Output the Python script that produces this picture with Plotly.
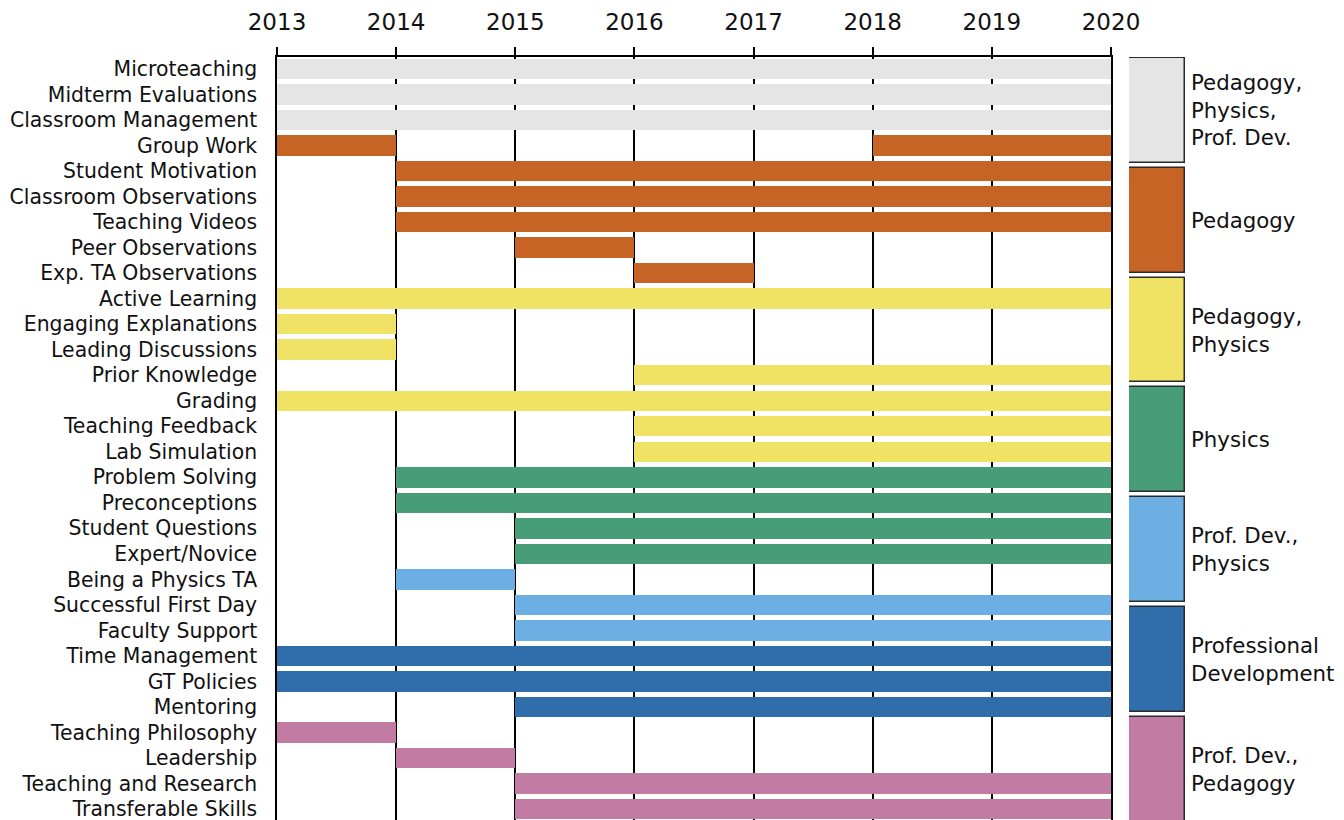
import plotly.graph_objects as go

# ---------------- data ----------------
topics = [
    "Microteaching", "Midterm Evaluations", "Classroom Management", "Group Work",
    "Student Motivation", "Classroom Observations", "Teaching Videos", "Peer Observations",
    "Exp. TA Observations", "Active Learning", "Engaging Explanations", "Leading Discussions",
    "Prior Knowledge", "Grading", "Teaching Feedback", "Lab Simulation", "Problem Solving",
    "Preconceptions", "Student Questions", "Expert/Novice", "Being a Physics TA",
    "Successful First Day", "Faculty Support", "Time Management", "GT Policies", "Mentoring",
    "Teaching Philosophy", "Leadership", "Teaching and Research", "Transferable Skills",
]

# segments (Group Work appears twice)
seg_topic = [
    "Microteaching", "Midterm Evaluations", "Classroom Management", "Group Work", "Group Work",
    "Student Motivation", "Classroom Observations", "Teaching Videos", "Peer Observations",
    "Exp. TA Observations", "Active Learning", "Engaging Explanations", "Leading Discussions",
    "Prior Knowledge", "Grading", "Teaching Feedback", "Lab Simulation", "Problem Solving",
    "Preconceptions", "Student Questions", "Expert/Novice", "Being a Physics TA",
    "Successful First Day", "Faculty Support", "Time Management", "GT Policies", "Mentoring",
    "Teaching Philosophy", "Leadership", "Teaching and Research", "Transferable Skills",
]
seg_start = [2013, 2013, 2013, 2013, 2018,
             2014, 2014, 2014, 2015,
             2016, 2013, 2013, 2013,
             2016, 2013, 2016, 2016, 2014,
             2014, 2015, 2015, 2014,
             2015, 2015, 2013, 2013, 2015,
             2013, 2014, 2015, 2015]
seg_end = [2020, 2020, 2020, 2014, 2020,
           2020, 2020, 2020, 2016,
           2017, 2020, 2014, 2014,
           2020, 2020, 2020, 2020, 2020,
           2020, 2020, 2020, 2015,
           2020, 2020, 2020, 2020, 2020,
           2014, 2015, 2020, 2020]
seg_group = [0, 0, 0, 1, 1,
             1, 1, 1, 1,
             1, 2, 2, 2,
             2, 2, 2, 2, 3,
             3, 3, 3, 4,
             4, 4, 5, 5, 5,
             6, 6, 6, 6]

group_labels = [
    "Pedagogy,<br>Physics,<br>Prof. Dev.",
    "Pedagogy",
    "Pedagogy,<br>Physics",
    "Physics",
    "Prof. Dev.,<br>Physics",
    "Professional<br>Development",
    "Prof. Dev.,<br>Pedagogy",
]
group_colors = ["#e5e5e5", "#c66426", "#efe264", "#479d77", "#6cb0e3", "#2f6eab", "#c27ba3"]

years = [2013, 2014, 2015, 2016, 2017, 2018, 2019, 2020]

FONT = "DejaVu Sans"

# ---------------- figure ----------------
fig = go.Figure()

fig.add_trace(go.Bar(
    y=seg_topic,
    x=[e - s for s, e in zip(seg_start, seg_end)],
    base=seg_start,
    orientation="h",
    width=0.8,
    marker=dict(color=[group_colors[g] for g in seg_group], line=dict(width=0)),
    showlegend=False,
    hoverinfo="skip",
    xaxis="x", yaxis="y",
))

# legend boxes as a small bar chart on secondary axes
fig.add_trace(go.Bar(
    y=list(range(len(group_labels))),
    x=[1] * len(group_labels),
    orientation="h",
    width=0.954,
    marker=dict(color=group_colors, line=dict(color="#2a2a2a", width=1.5)),
    showlegend=False,
    hoverinfo="skip",
    xaxis="x2", yaxis="y2",
))

for i, lab in enumerate(group_labels):
    fig.add_annotation(
        x=1, y=i, xref="x2", yref="y2", text=lab, showarrow=False,
        xanchor="left", yanchor="middle", align="left", xshift=4,
        font=dict(family=FONT, size=21.3, color="#111111"),
    )

# page body has an 8px margin; compensate so the picture lines up
OFF = 8
W, H = 1344 - OFF, 820 - OFF
L, T = 277 - OFF, 57 - OFF
plot_w = W - L

fig.update_layout(
    width=W, height=H,
    margin=dict(l=L, r=0, t=T, b=0, autoexpand=False),
    paper_bgcolor="white", plot_bgcolor="white",
    barmode="overlay",
    bargap=0,
    xaxis=dict(
        domain=[0, (1111 - 277) / plot_w],
        range=[2013, 2020],
        side="top",
        tickvals=years,
        ticktext=[str(y) for y in years],
        ticks="outside", ticklen=8, tickwidth=1.5, tickcolor="black",
        ticklabelstandoff=8,
        showline=True, linecolor="black", linewidth=1.5,
        showgrid=True, gridcolor="black", gridwidth=1.5,
        zeroline=False, automargin=False,
        tickfont=dict(family=FONT, size=23, color="#111111"),
        fixedrange=True,
    ),
    yaxis=dict(
        categoryorder="array", categoryarray=topics,
        range=[29.43, -0.47],
        ticks="outside", ticklen=14, tickcolor="rgba(0,0,0,0)",
        showline=True, linecolor="black", linewidth=1.5, mirror=True,
        showgrid=False, zeroline=False, automargin=False,
        tickfont=dict(family=FONT, size=20.4, color="#111111"),
        fixedrange=True,
    ),
    xaxis2=dict(
        domain=[(1129 - 277) / plot_w, (1185 - 277) / plot_w],
        range=[0, 1], anchor="y2", automargin=False,
        visible=False, fixedrange=True,
    ),
    yaxis2=dict(
        range=[6.461, -0.486], anchor="x2", automargin=False,
        visible=False, fixedrange=True,
    ),
)

fig.write_html("out.html")
